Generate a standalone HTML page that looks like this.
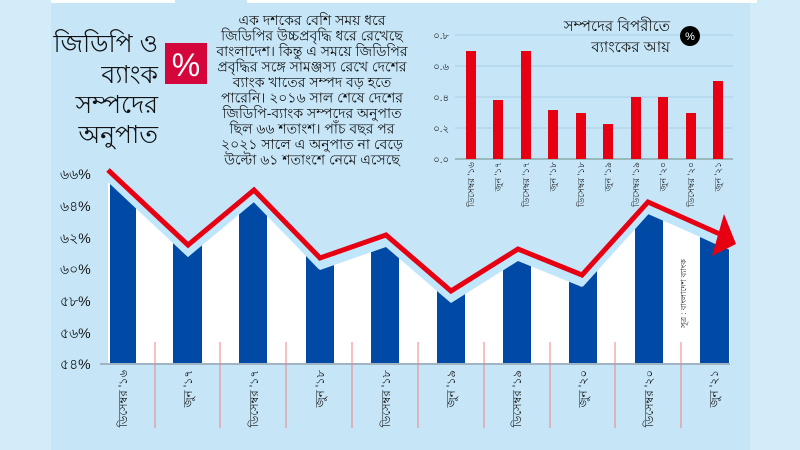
<!DOCTYPE html>
<html><head><meta charset="utf-8"><style>
html,body{margin:0;padding:0;width:800px;height:450px;overflow:hidden;background:#d3ecfa}
svg{display:block}
text{font-family:"Liberation Sans","Noto Sans CJK SC",sans-serif}
</style></head><body>
<svg width="800" height="450" viewBox="0 0 800 450" xmlns="http://www.w3.org/2000/svg">
<rect x="0" y="0" width="800" height="450" fill="#d3ecfa"/>
<rect x="51" y="0" width="699" height="450" fill="#c6e6f8"/>
<rect x="51" y="0" width="124" height="3" fill="#fff"/>
<rect x="247" y="0" width="510" height="3" fill="#fff"/>

<!-- left title -->
<g font-size="25" fill="#111" text-anchor="end">
<text x="158" y="52">জিডিপি ও</text>
<text x="158" y="83">ব্যাংক</text>
<text x="158" y="113">সম্পদের</text>
<text x="158" y="143">অনুপাত</text>
</g>
<rect x="165" y="43" width="42" height="41" fill="#d4063c"/>
<text x="186" y="76" font-size="32" fill="#fff" text-anchor="middle">%</text>

<!-- paragraph -->
<g font-size="14" fill="#111" text-anchor="middle">
<text x="312" y="25">এক দশকের বেশি সময় ধরে</text>
<text x="312" y="40.5">জিডিপির উচ্চপ্রবৃদ্ধি ধরে রেখেছে</text>
<text x="312" y="56">বাংলাদেশ। কিন্তু এ সময়ে জিডিপির</text>
<text x="312" y="71.5">প্রবৃদ্ধির সঙ্গে সামঞ্জস্য রেখে দেশের</text>
<text x="312" y="87">ব্যাংক খাতের সম্পদ বড় হতে</text>
<text x="312" y="102.5">পারেনি। ২০১৬ সাল শেষে দেশের</text>
<text x="312" y="118">জিডিপি-ব্যাংক সম্পদের অনুপাত</text>
<text x="312" y="133.5">ছিল ৬৬ শতাংশ। পাঁচ বছর পর</text>
<text x="312" y="149">২০২১ সালে এ অনুপাত না বেড়ে</text>
<text x="312" y="164.5">উল্টো ৬১ শতাংশে নেমে এসেছে</text>
</g>

<!-- small chart -->
<g stroke="#a9cfe6" stroke-width="1">
<line x1="455" y1="35" x2="733" y2="35"/><line x1="455" y1="66" x2="733" y2="66"/>
<line x1="455" y1="97" x2="733" y2="97"/><line x1="455" y1="128" x2="733" y2="128"/>
</g>
<line x1="455" y1="159" x2="733" y2="159" stroke="#8aa" stroke-width="1.5"/>
<g font-size="10" fill="#222" text-anchor="end">
<text x="449" y="39">০.৮</text><text x="449" y="70">০.৬</text><text x="449" y="101">০.৪</text><text x="449" y="132">০.২</text><text x="449" y="163">০.০</text>
</g>
<g fill="#e60012">
<rect x="466" y="51" width="10" height="108"/><rect x="493" y="100" width="10" height="59"/>
<rect x="521" y="51" width="10" height="108"/><rect x="548" y="110" width="10" height="49"/>
<rect x="576" y="113" width="10" height="46"/><rect x="603" y="124" width="10" height="35"/>
<rect x="631" y="97" width="10" height="62"/><rect x="658" y="97" width="10" height="62"/>
<rect x="686" y="113" width="10" height="46"/><rect x="713" y="81" width="10" height="78"/>
</g>
<g font-size="9" fill="#222" text-anchor="end">
<text transform="translate(474,162) rotate(-90)">ডিসেম্বর '১৬</text>
<text transform="translate(501,162) rotate(-90)">জুন '১৭</text>
<text transform="translate(529,162) rotate(-90)">ডিসেম্বর '১৭</text>
<text transform="translate(556,162) rotate(-90)">জুন '১৮</text>
<text transform="translate(584,162) rotate(-90)">ডিসেম্বর '১৮</text>
<text transform="translate(611,162) rotate(-90)">জুন '১৯</text>
<text transform="translate(639,162) rotate(-90)">ডিসেম্বর '১৯</text>
<text transform="translate(666,162) rotate(-90)">জুন '২০</text>
<text transform="translate(694,162) rotate(-90)">ডিসেম্বর '২০</text>
<text transform="translate(721,162) rotate(-90)">জুন '২১</text>
</g>
<g font-size="15" fill="#111" text-anchor="end">
<text x="670" y="31">সম্পদের বিপরীতে</text>
<text x="670" y="52">ব্যাংকের আয়</text>
</g>
<circle cx="690" cy="36" r="10" fill="#000"/>
<text x="690" y="40" font-size="11" fill="#fff" text-anchor="middle">%</text>

<!-- main chart -->
<defs>
<clipPath id="area"><polygon points="108,182 188,257 254,202 320,270 386,247 451,303 518,261 582,287 648,214 730,250 730,364 108,364"/></clipPath>
</defs>
<polygon points="108,182 188,257 254,202 320,270 386,247 451,303 518,261 582,287 648,214 730,250 730,364 108,364" fill="#fff"/>
<g clip-path="url(#area)" fill="#004aa5">
<rect x="110" y="150" width="26" height="214"/><rect x="173" y="150" width="29" height="214"/>
<rect x="239" y="150" width="28" height="214"/><rect x="306" y="150" width="28" height="214"/>
<rect x="371" y="150" width="28" height="214"/><rect x="437" y="150" width="28" height="214"/>
<rect x="503" y="150" width="28" height="214"/><rect x="569" y="150" width="28" height="214"/>
<rect x="635" y="150" width="28" height="214"/><rect x="700" y="150" width="29" height="214"/>
</g>
<polyline points="108,176 188,251 254,196 320,264 386,241 451,297 518,255 582,281 648,208 726,244" fill="none" stroke="#bfe6fb" stroke-width="9" stroke-linejoin="miter"/>
<line x1="100" y1="364" x2="730" y2="364" stroke="#a0b4c4" stroke-width="2"/>
<polyline points="108,170 188,245 254,190 320,258 386,235 451,291 518,249 582,275 648,202 722,235" fill="none" stroke="#e60012" stroke-width="5" stroke-linejoin="miter"/>
<polygon points="724,214 736,244 712,256" fill="#e60012"/>
<g stroke="#f08080" stroke-width="1">
<line x1="155" y1="342" x2="155" y2="428"/><line x1="220" y1="342" x2="220" y2="428"/>
<line x1="286" y1="342" x2="286" y2="428"/><line x1="352" y1="342" x2="352" y2="428"/>
<line x1="418" y1="342" x2="418" y2="428"/><line x1="484" y1="342" x2="484" y2="428"/>
<line x1="550" y1="342" x2="550" y2="428"/><line x1="615" y1="342" x2="615" y2="428"/>
<line x1="681" y1="342" x2="681" y2="428"/>
</g>
<g font-size="14" fill="#111">
<text x="60" y="179">৬৬%</text><text x="60" y="211">৬৪%</text><text x="60" y="243">৬২%</text>
<text x="60" y="274">৬০%</text><text x="60" y="306">৫৮%</text><text x="60" y="338">৫৬%</text><text x="60" y="369">৫৪%</text>
</g>
<g font-size="11.5" fill="#111" text-anchor="end">
<text transform="translate(127,370) rotate(-90)">ডিসেম্বর '১৬</text>
<text transform="translate(192,370) rotate(-90)">জুন '১৭</text>
<text transform="translate(258,370) rotate(-90)">ডিসেম্বর '১৭</text>
<text transform="translate(324,370) rotate(-90)">জুন '১৮</text>
<text transform="translate(390,370) rotate(-90)">ডিসেম্বর '১৮</text>
<text transform="translate(455,370) rotate(-90)">জুন '১৯</text>
<text transform="translate(521,370) rotate(-90)">ডিসেম্বর '১৯</text>
<text transform="translate(587,370) rotate(-90)">জুন '২০</text>
<text transform="translate(653,370) rotate(-90)">ডিসেম্বর '২০</text>
<text transform="translate(718,370) rotate(-90)">জুন '২১</text>
</g>
<text transform="translate(686,328) rotate(-90)" font-size="8" fill="#222">সূত্র : বাংলাদেশ ব্যাংক</text>
</svg>
</body></html>
